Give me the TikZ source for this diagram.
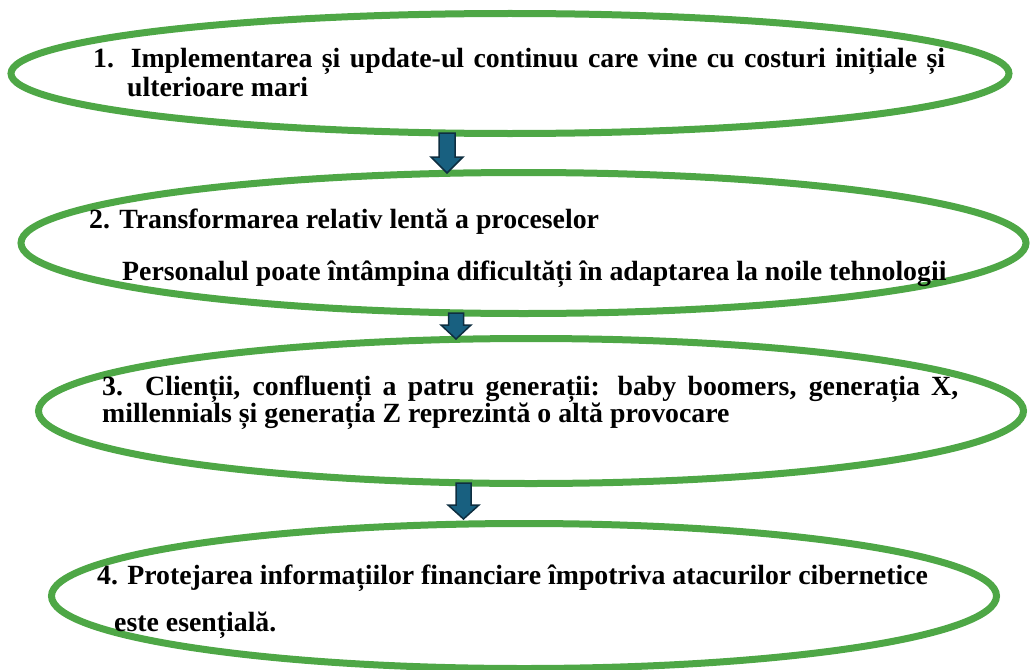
\documentclass[tikz,border=0pt]{standalone}
\usepackage{fontspec}
\setmainfont{Liberation Serif}
\usetikzlibrary{shapes.geometric}
\definecolor{ringgreen}{RGB}{78,167,70}
\definecolor{arrowfill}{RGB}{24,96,128}
\definecolor{arrowline}{RGB}{14,46,64}
\tikzset{
  ring/.style={ellipse, draw=ringgreen, line width=7pt, inner sep=0pt},
  line/.style={anchor=base west, inner sep=0pt, font=\bfseries\fontsize{27.8}{32}\selectfont},
  blockarrow/.style={fill=arrowfill, draw=arrowline, line width=1.5pt, line join=miter}
}
\begin{document}
\begin{tikzpicture}[x=1pt, y=-1pt]
      \useasboundingbox (0,0) rectangle (1030,669);
      \node[ring, minimum width=998pt, minimum height=120pt] (e1) at (510,73.5) {};
      \node[ring, minimum width=1005pt, minimum height=141pt] (e2) at (523.5,243) {};
      \node[ring, minimum width=985pt, minimum height=145pt] (e3) at (531,411) {};
      \node[ring, minimum width=945pt, minimum height=145pt] (e4) at (524,596) {};
      % texts
      \node[line] (t1a) at (93,67) {\makebox[852pt][s]{1. Implementarea și update-ul continuu care vine cu costuri inițiale și}};
      \node[line] (t1b) at (127,96) {ulterioare mari};
      \node[line] (t2a) at (89,228) {2. Transformarea relativ lentă a proceselor};
      \node[line] (t2b) at (122,280) {Personalul poate întâmpina dificultăți în adaptarea la noile tehnologii};
      \node[line] (t3a) at (102,395) {\makebox[856pt][s]{3. Clienții, confluenți a patru generații: baby boomers, generația X,}};
      \node[line] (t3b) at (102,422) {millennials și generația Z reprezintă o altă provocare};
      \node[line] (t4a) at (97,584) {4. Protejarea informațiilor financiare împotriva atacurilor cibernetice};
      \node[line] (t4b) at (114,631) {este esențială.};
      % arrows
      \foreach \cx/\top/\neck/\tip/\sh/\hd in {447/133/157/173/8/16, 456/313/325/339/7.5/15, 463.5/483/505/519/7.5/15.5}
        \draw[blockarrow] (\cx-\sh,\top) -- (\cx+\sh,\top) -- (\cx+\sh,\neck) -- (\cx+\hd,\neck)
          -- (\cx,\tip) -- (\cx-\hd,\neck) -- (\cx-\sh,\neck) -- cycle;
    \end{tikzpicture}
\end{document}
